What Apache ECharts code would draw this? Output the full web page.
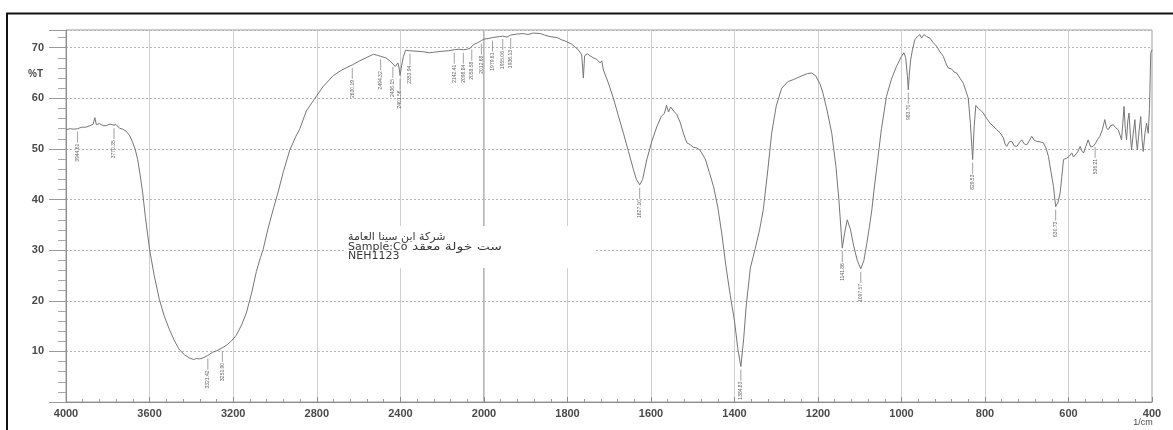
<!DOCTYPE html>
<html>
<head>
<meta charset="utf-8">
<script src="https://cdn.jsdelivr.net/npm/echarts@6/dist/echarts.min.js"></script>
<style>
  html, body { margin: 0; padding: 0; background: #ffffff; }
  #chart { width: 1173px; height: 430px; }
</style>
</head>
<body>
<div id="chart"></div>
<script>
// FTIR spectrum: wavenumber (1/cm) vs transmittance (%T)
const wavenumbers = [
  4000, 3980, 3962, 3944.61, 3925, 3904, 3885, 3870, 3862, 3855, 3840, 3822, 3808, 3790, 3770.35, 3760,
  3744, 3728, 3712, 3695, 3681, 3668, 3657, 3645, 3633, 3620, 3600, 3578, 3553, 3530, 3505, 3480,
  3457, 3432, 3409, 3390, 3375, 3361, 3345, 3321.42, 3300, 3281, 3251.90, 3233, 3210, 3185, 3160, 3137,
  3112, 3089, 3070, 3057, 3035, 3009, 2985, 2960, 2929, 2900, 2881, 2850, 2809, 2770, 2721, 2680,
  2641, 2630.19, 2600, 2560, 2529, 2510, 2494.32, 2470, 2450, 2436.15, 2425, 2412, 2406, 2401.56, 2394, 2386,
  2375, 2369, 2353.94, 2345, 2321, 2290, 2260, 2242, 2200, 2170, 2142.41, 2120, 2098.84, 2080, 2066, 2058.58,
  2051, 2030, 2012.68, 2000, 1990, 1979.61, 1962, 1955.06, 1945, 1936.13, 1922, 1905, 1895, 1882, 1865, 1855,
  1842, 1825, 1815, 1802, 1790, 1780, 1774, 1766, 1762, 1759, 1752, 1746, 1738, 1730, 1722, 1718,
  1714, 1702, 1690, 1678, 1666, 1654, 1642, 1635, 1627.10, 1620, 1610, 1598, 1586, 1575, 1568, 1563,
  1558, 1553, 1546, 1538, 1530, 1522, 1514, 1505, 1498, 1490, 1483, 1470, 1460, 1450, 1440, 1430,
  1420, 1410, 1400, 1392, 1384.83, 1378, 1372, 1362, 1351, 1340, 1331, 1320, 1311, 1300, 1287, 1272,
  1259, 1240, 1225, 1215, 1205, 1195, 1188, 1178, 1167, 1157, 1150, 1141.86, 1136, 1130, 1122, 1115,
  1106, 1097.57, 1090, 1083, 1077, 1071, 1065, 1059, 1048, 1036, 1024, 1012, 1000, 994, 990, 986,
  983.70, 981, 978, 974, 968, 962, 956, 952, 946, 940, 932, 924, 916, 908, 900, 894,
  888, 880, 874, 868, 860, 852, 846, 840, 835, 829.53, 826, 822, 816, 810, 804, 796,
  788, 780, 772, 764, 756, 752, 748, 742, 736, 730, 724, 718, 712, 706, 700, 694,
  688, 682, 676, 668, 660, 654, 648, 642, 636, 630.73, 625, 620, 616, 612, 608, 604,
  598, 592, 588, 584, 578, 572, 568, 564, 558, 553, 547, 541, 536.21, 530, 525, 519,
  513, 509, 505, 499, 493, 487, 481, 476, 473, 470, 467, 464, 461, 458, 455, 452,
  449, 445, 441, 438, 435, 431, 427, 424, 421, 417, 413, 409, 406, 403, 400
];
const transmittance = [
  53.8, 54.0, 53.9, 54.0, 54.3, 54.3, 54.6, 54.9, 56.2, 54.8, 55.0, 54.6, 54.6, 54.9, 54.7, 54.8,
  54.1, 53.9, 53.5, 52.6, 51.3, 49.8, 47.9, 44.8, 41.3, 36.5, 30.1, 25.0, 20.2, 17.0, 14.3, 12.0,
  10.3, 9.3, 8.7, 8.4, 8.6, 8.5, 8.7, 9.2, 9.8, 10.1, 10.7, 11.2, 12.0, 13.2, 15.2, 17.6,
  21.5, 25.8, 28.5, 30.1, 34.0, 38.0, 41.5, 45.5, 49.8, 52.5, 54.0, 57.5, 60.0, 62.3, 64.5, 65.6,
  66.4, 66.6, 67.3, 68.1, 68.7, 68.5, 68.3, 68.0, 67.4, 66.8, 66.3, 67.0, 66.0, 64.5, 66.5, 68.2,
  69.5, 69.6, 69.4, 69.7, 69.3, 69.2, 69.0, 69.1, 69.3, 69.4, 69.6, 69.7, 69.6, 69.7, 69.9, 70.2,
  70.6, 71.0, 71.4, 71.7, 71.8, 72.0, 72.2, 72.3, 72.1, 72.5, 72.7, 72.8, 72.6, 72.9, 72.8, 72.5,
  72.2, 72.0, 71.6, 71.2, 70.7, 70.0, 69.6, 68.6, 64.0, 68.4, 68.8, 68.4, 68.0, 67.7, 67.0, 67.4,
  65.6, 63.0, 60.0, 56.5, 53.1, 49.5, 45.9, 44.0, 42.9, 44.0, 47.9, 51.5, 54.4, 56.5, 57.0, 58.6,
  57.3, 58.3, 57.5, 56.8, 55.2, 53.0, 51.2, 50.8, 50.3, 50.2, 49.8, 48.0, 45.3, 42.5, 38.5, 33.0,
  26.5, 21.0, 16.0, 10.5, 7.0, 12.5, 19.0, 26.5, 30.1, 34.0, 38.0, 46.0, 53.1, 58.5, 62.0, 63.3,
  63.7, 64.4, 64.9, 65.0, 64.4, 62.8, 61.0, 57.5, 53.1, 46.5, 40.0, 30.4, 33.5, 36.0, 34.0, 31.0,
  28.0, 26.3, 28.0, 31.4, 34.5, 38.0, 42.5, 46.5, 54.0, 60.4, 63.8, 66.3, 68.3, 69.0, 68.0, 64.5,
  61.7, 65.0, 67.6, 69.5, 71.6, 72.2, 72.6, 71.9, 72.6, 72.2, 71.9, 71.0, 70.3, 69.2, 68.3, 67.0,
  66.0, 65.8, 65.2, 65.0, 64.0, 63.0, 61.5, 60.0, 55.0, 47.9, 54.4, 58.6, 58.0, 57.6, 57.1, 56.0,
  55.1, 54.5, 53.8, 53.2, 52.2, 51.0, 50.5, 51.4, 51.5, 50.6, 50.5, 51.2, 51.8, 51.0, 50.8, 51.6,
  52.5, 51.7, 51.5, 51.4, 51.2, 50.2, 48.5, 45.5, 42.6, 38.6, 39.5, 41.3, 44.5, 47.9, 47.6, 48.2,
  48.6, 49.2, 48.4, 48.2, 49.4, 50.5, 49.6, 49.2, 50.6, 51.8, 50.4, 50.5, 51.0, 51.9, 52.5, 53.8,
  55.8, 54.2, 53.8, 54.6, 54.8, 54.2, 53.8, 52.6, 51.8, 55.0, 58.4, 54.0, 51.8, 55.5, 57.1, 53.0,
  49.8, 53.0, 55.8, 52.0, 49.8, 53.5, 56.4, 52.0, 49.5, 53.0, 55.1, 53.1, 58.0, 68.9, 69.6
];

// Picked peak positions (1/cm), printed under the trace
const peakWavenumbers = [
  3944.61, 3770.35, 3321.42, 3251.90, 2630.19, 2494.32, 2436.15, 2401.56, 2353.94,
  2142.41, 2098.84, 2058.58, 2012.68, 1979.61, 1955.06, 1936.13,
  1627.10, 1384.83, 1141.86, 1097.57, 983.70, 829.53, 630.73, 536.21
];

// Axis ticks
const yTickValues = [10, 20, 30, 40, 50, 60, 70];
const highRange = { min: 2000, max: 4000, interval: 400 };  // compressed part of the abscissa
const lowRange = { min: 400, max: 2000, interval: 200 };    // expanded part of the abscissa

// Sample annotation printed on the spectrum
const companyLine = 'شركة ابن سينا العامة';
const sampleTag = 'Sample:Co';
const sampleName = 'ست خولة معقد';
const sampleCode = 'NEH1123';

const spectrum = wavenumbers.map((w, i) => [w, transmittance[i]]);
const highPart = spectrum.filter(p => p[0] >= 2000);
const lowPart = spectrum.filter(p => p[0] <= 2000);

const peaks = peakWavenumbers.map(w => [w, transmittance[wavenumbers.indexOf(w)]]);
const highPeaks = peaks.filter(p => p[0] >= 2000);
const lowPeaks = peaks.filter(p => p[0] < 2000);

const chart = echarts.init(document.getElementById('chart'), null, { renderer: 'canvas' });

const tickFont = { fontFamily: 'Liberation Sans', fontSize: 11, fontWeight: 'bold', color: '#4a4a4a' };
const traceColor = '#767676';

// text width helper, used to widen the sample name to the printer's face
const measureCtx = document.createElement('canvas').getContext('2d');
function textWidth(text, font) {
  measureCtx.font = font;
  return measureCtx.measureText(text).width;
}

// peak marker: short leader under the trace and the wavenumber printed vertically
function peakLabel(params, api) {
  const w = api.value(0);
  const t = api.value(1);
  const p = api.coord([w, t]);
  return {
    type: 'group',
    children: [
      { type: 'line', shape: { x1: p[0], y1: p[1] + 3, x2: p[0], y2: p[1] + 14 },
        style: { stroke: '#8a8a8a', lineWidth: 0.8 } },
      { type: 'text', x: p[0], y: p[1] + 15, rotation: Math.PI / 2,
        style: { text: w.toFixed(2), fontSize: 5, fontFamily: 'Liberation Sans', fill: '#666',
                 align: 'right', verticalAlign: 'middle' } }
    ]
  };
}

function yAxisFor(gridIndex, visible) {
  return {
    type: 'value', gridIndex: gridIndex, min: 0, max: 73.5, interval: 10,
    axisLine: { show: visible, lineStyle: { color: '#8c8c8c', width: 1 } },
    axisTick: { show: visible, inside: false, length: 17, lineStyle: { color: '#9a9a9a' } },
    minorTick: { show: visible, splitNumber: 5, length: 8, lineStyle: { color: '#a8a8a8' } },
    axisLabel: {
      show: visible, margin: 22, ...tickFont,
      formatter: v => (yTickValues.indexOf(v) >= 0 ? String(v) : '')
    },
    splitLine: { show: true, lineStyle: { color: '#b4b4b4', width: 1, type: [2, 2] } }
  };
}

function xAxisFor(gridIndex, range, showMin) {
  return {
    type: 'value', gridIndex: gridIndex, inverse: true,
    min: range.min, max: range.max, interval: range.interval,
    axisLine: { show: true, lineStyle: { color: '#8c8c8c', width: 1 } },
    axisTick: { show: true, inside: true, length: 5, lineStyle: { color: '#8c8c8c' } },
    minorTick: { show: true, splitNumber: 5, length: 3, lineStyle: { color: '#9a9a9a' } },
    axisLabel: { show: true, margin: 6, showMinLabel: showMin, showMaxLabel: true, ...tickFont,
                 formatter: v => String(v) },
    splitLine: { show: true, lineStyle: { color: '#cfcfcf', width: 1, type: 'solid' } }
  };
}

const noteFont = '11px "DejaVu Sans"';
const nameScale = 90 / textWidth(sampleName, noteFont);

chart.setOption({
  animation: false,
  backgroundColor: '#ffffff',
  grid: [
    { left: 66, top: 30, width: 418, height: 372, show: true, borderColor: '#a0a0a0', borderWidth: 1 },
    { left: 484, top: 30, width: 668, height: 372, show: true, borderColor: '#a0a0a0', borderWidth: 1 }
  ],
  xAxis: [xAxisFor(0, highRange, false), xAxisFor(1, lowRange, true)],
  yAxis: [yAxisFor(0, true), yAxisFor(1, false)],
  series: [
    { type: 'line', xAxisIndex: 0, yAxisIndex: 0, data: highPart, showSymbol: false, symbol: 'none',
      lineStyle: { color: traceColor, width: 1 }, z: 3 },
    { type: 'line', xAxisIndex: 1, yAxisIndex: 1, data: lowPart, showSymbol: false, symbol: 'none',
      lineStyle: { color: traceColor, width: 1 }, z: 3 },
    { type: 'custom', xAxisIndex: 0, yAxisIndex: 0, data: highPeaks, renderItem: peakLabel, z: 4 },
    { type: 'custom', xAxisIndex: 1, yAxisIndex: 1, data: lowPeaks, renderItem: peakLabel, z: 4 }
  ],
  graphic: [
    // printout frame
    { type: 'line', shape: { x1: 6, y1: 13.5, x2: 1173, y2: 13.5 }, style: { stroke: '#111', lineWidth: 2 }, z: 20 },
    { type: 'line', shape: { x1: 7, y1: 13, x2: 7, y2: 430 }, style: { stroke: '#111', lineWidth: 2 }, z: 20 },
    // ordinate caption
    { type: 'text', x: 43, y: 74, style: { text: '%T', align: 'right', verticalAlign: 'middle',
      font: 'bold 10px "Liberation Sans"', fill: '#4a4a4a' }, z: 20 },
    // abscissa unit
    { type: 'text', x: 1143, y: 423, style: { text: '1/cm', align: 'center', verticalAlign: 'middle',
      font: '9px "Liberation Sans"', fill: '#4a4a4a' }, z: 20 },
    // sample annotation box
    { type: 'rect', shape: { x: 344, y: 226, width: 250, height: 42 }, style: { fill: '#ffffff' }, z: 10 },
    { type: 'text', x: 348, y: 237,
      style: { text: companyLine, font: noteFont, fill: '#3a3a3a', align: 'left', verticalAlign: 'middle' }, z: 11 },
    { type: 'text', x: 348, y: 247,
      style: { text: sampleTag, font: noteFont, fill: '#3a3a3a', align: 'left', verticalAlign: 'middle' }, z: 11 },
    { type: 'text', x: 412, y: 247, scaleX: nameScale,
      style: { text: sampleName, font: noteFont, fill: '#3a3a3a', align: 'left', verticalAlign: 'middle' }, z: 11 },
    { type: 'text', x: 348, y: 256.5,
      style: { text: sampleCode, font: noteFont, fill: '#3a3a3a', align: 'left', verticalAlign: 'middle' }, z: 11 }
  ]
});
</script>
</body>
</html>
